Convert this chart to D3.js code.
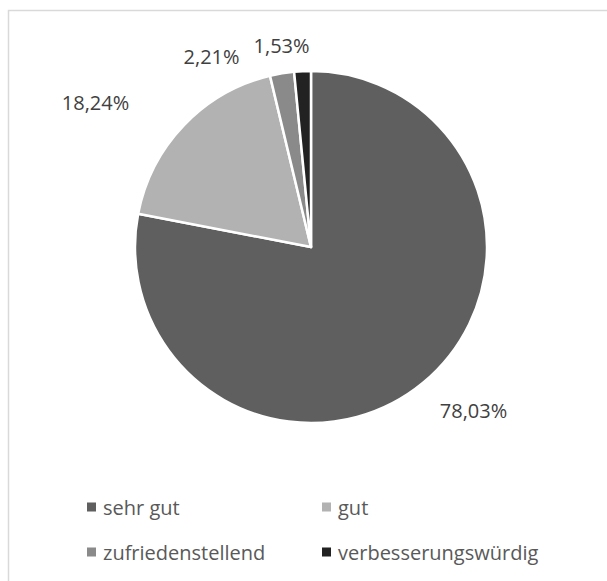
<!DOCTYPE html>
<html>
<head>
<meta charset="utf-8">
<script src="https://cdn.jsdelivr.net/npm/d3@7"></script>
<style>
  body { margin: 0; background: #fff; }
</style>
</head>
<body>
<script>
const width = 607;
const height = 581;

// data
const categories = ["sehr gut", "gut", "zufriedenstellend", "verbesserungswürdig"];
const shares = [78.03, 18.24, 2.21, 1.53];
const sliceColors = ["#5f5f5f", "#b2b2b2", "#8a8a8a", "#222222"];

// label nudges from the arc centroid (Excel "best fit" look)
const labelNudge = [[37, 12], [-73, -8], [-67, 4], [-20, -5]];

const cx = 311, cy = 247, radius = 176;
const font = "'Open Sans', sans-serif";

const svg = d3.select("body")
    .append("svg")
    .attr("width", width)
    .attr("height", height);

// chart area border
svg.append("rect")
    .attr("x", 8.5)
    .attr("y", 10.5)
    .attr("width", width)
    .attr("height", height)
    .attr("fill", "none")
    .attr("stroke", "#d9d9d9")
    .attr("stroke-width", 1.5);

const data = categories.map((c, i) => ({ name: c, value: shares[i], color: sliceColors[i] }));

const pie = d3.pie().value(d => d.value).sort(null);
const arc = d3.arc().innerRadius(0).outerRadius(radius);
const labelArc = d3.arc().innerRadius(radius * 1.12).outerRadius(radius * 1.12);

const g = svg.append("g").attr("transform", `translate(${cx},${cy})`);
const arcs = pie(data);

g.selectAll("path")
    .data(arcs)
    .join("path")
    .attr("d", arc)
    .attr("fill", d => d.data.color)
    .attr("stroke", "#fff")
    .attr("stroke-width", 2.5)
    .attr("stroke-linejoin", "round");

g.selectAll("text.lbl")
    .data(arcs)
    .join("text")
    .attr("class", "lbl")
    .attr("x", (d, i) => labelArc.centroid(d)[0] + labelNudge[i][0])
    .attr("y", (d, i) => labelArc.centroid(d)[1] + labelNudge[i][1])
    .attr("text-anchor", "middle")
    .attr("dominant-baseline", "central")
    .attr("font-family", font)
    .attr("font-size", "20px")
    .attr("fill", "#404040")
    .text(d => d.data.value.toFixed(2).replace(".", ",") + "%");

// legend, 2 columns
const legendCol = d3.scaleOrdinal().domain([0, 1]).range([87, 322]);
const legendRow = d3.scaleOrdinal().domain([0, 1]).range([507, 552]);

const legend = svg.selectAll("g.legend")
    .data(data)
    .join("g")
    .attr("class", "legend")
    .attr("transform", (d, i) => `translate(${legendCol(i % 2)},${legendRow(Math.floor(i / 2))})`);

legend.append("rect")
    .attr("x", 0)
    .attr("y", -4.5)
    .attr("width", 9)
    .attr("height", 9)
    .attr("fill", d => d.color);

legend.append("text")
    .attr("x", 16)
    .attr("y", 0)
    .attr("dominant-baseline", "central")
    .attr("font-family", font)
    .attr("font-size", "20px")
    .attr("fill", "#595959")
    .text(d => d.name);
</script>
</body>
</html>
